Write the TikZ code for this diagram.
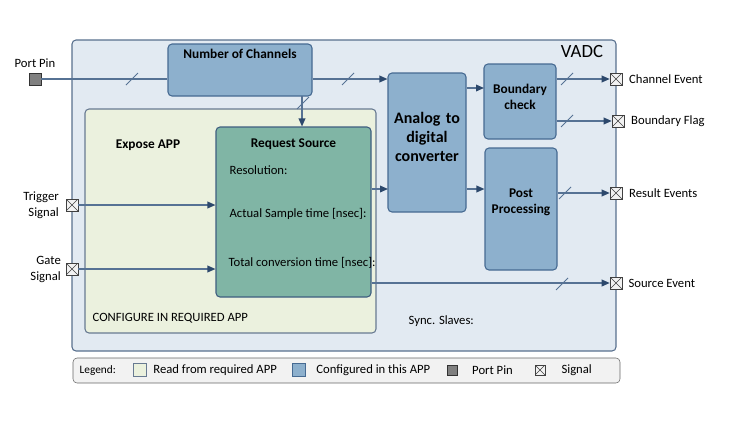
\documentclass[tikz,border=0pt]{standalone}
\usepackage{fontspec}
\setmainfont{Carlito}
\usepackage{tikz}
\usetikzlibrary{arrows.meta, positioning, fit, calc}
\definecolor{vadccolor}{RGB}{226, 234, 242}
\definecolor{vadcborder}{RGB}{88, 112, 142}
\definecolor{configcolor}{RGB}{141, 176, 205}
\definecolor{configborder}{RGB}{70, 106, 146}
\definecolor{readcolor}{RGB}{235, 241, 222}
\definecolor{readborder}{RGB}{104, 122, 146}
\definecolor{sourcecolor}{RGB}{128, 181, 165}
\definecolor{sourceborder}{RGB}{62, 94, 128}
\definecolor{linecolor}{RGB}{86, 114, 148}
\definecolor{tipcolor}{RGB}{44, 72, 108}
\definecolor{legendcolor}{RGB}{242, 242, 242}

\newcommand{\busmark}[1]{\draw[bus] ($(#1)+(-6,6)$) -- ($(#1)+(6,-6)$);}

\begin{document}
\begin{tikzpicture}[
    x=0.75pt, y=-0.75pt,
    font=\fontsize{9.5}{12}\selectfont,
    vadcbox/.style={draw=vadcborder, fill=vadccolor, rounded corners=3pt, inner sep=0pt, line width=0.8pt},
    cfgbox/.style={draw=configborder, fill=configcolor, rounded corners=3pt, inner sep=0pt, line width=0.8pt},
    readbox/.style={draw=readborder, fill=readcolor, rounded corners=3pt, inner sep=0pt, line width=0.8pt},
    srcbox/.style={draw=sourceborder, fill=sourcecolor, rounded corners=3pt, inner sep=0pt, line width=0.8pt},
    title/.style={font=\fontsize{10}{12}\selectfont\bfseries, align=center},
    txt/.style={anchor=west, inner sep=1pt},
    pin/.style={draw=black!80, fill=black!50, minimum size=9pt, inner sep=0pt},
    signal/.style={draw=black!75, fill=black!5, minimum size=9pt, inner sep=0pt,
        path picture={\draw[black!75] (path picture bounding box.south west) -- (path picture bounding box.north east)
            (path picture bounding box.north west) -- (path picture bounding box.south east);}},
    connector/.style={draw=linecolor, line width=1pt},
    arrow/.style={connector, -{Triangle[length=6pt, width=5pt, color=tipcolor]}},
    bus/.style={draw=linecolor, line width=0.6pt}
]
    \useasboundingbox (0,0) rectangle (738,425);

    % Main blocks
    \node[vadcbox, fit={(72,40) (616,351)}] (vadc) {};
    \node[font=\fontsize{14}{16}\selectfont, inner sep=0pt, below left=4pt and 10pt of vadc.north east] (vadclabel) {VADC};
    \node[cfgbox, fit={(168,44) (312,96)}] (noc) {};
    \node[title, below=1pt of noc.north] (noctitle) {Number of Channels};
    \node[readbox, fit={(85,109) (376,333)}] (expose) {};
    \node[title] (exposetitle) at (148,145) {Expose APP};
    \node[txt] (configure) at (91,318) {CONFIGURE IN REQUIRED APP};
    \node[srcbox, fit={(216,127) (371,297)}] (rs) {};
    \node[title, below=6pt of rs.north] (rstitle) {Request Source};
    \node[txt] (resolution) at (228,170) {Resolution:};
    \node[txt] (sampletime) at (228,214) {Actual Sample time [nsec]:};
    \node[txt] (convtime) at (227,263) {Total conversion time [nsec]:};
    \node[cfgbox, fit={(388,73) (466,212)}, font=\fontsize{12}{14.5}\selectfont\bfseries, align=center] (adc) {Analog to\\digital\\converter};
    \node[cfgbox, fit={(484,64) (556,139)}, title] (bcheck) {Boundary\\check};
    \node[cfgbox, fit={(485,148) (557,270)}] (post) {};
    \node[title] (posttitle) at (521,202) {Post\\Processing};
    \node[txt] (sync) at (407,321) {Sync. Slaves:};

    % Pins and signals
    \node[pin] (portpin) at (35,79) {};
    \node[above=2.5pt of portpin, inner sep=1pt] (portpinlabel) {Port Pin};
    \node[signal] (trigger) at (72,205) {};
    \node[left=4pt of trigger, align=right, inner sep=1pt] (triggerlabel) {Trigger\\Signal};
    \node[signal] (gate) at (72,269) {};
    \node[left=2.5pt of gate, align=right, inner sep=1pt] (gatelabel) {Gate\\Signal};
    \node[signal] (chevent) at (616,79) {};
    \node[right=4pt of chevent, inner sep=1pt] (cheventlabel) {Channel Event};
    \node[signal] (bflag) at (618,121) {};
    \node[right=4pt of bflag, inner sep=1pt] (bflaglabel) {Boundary Flag};
    \node[signal] (resevent) at (616,193) {};
    \node[right=4pt of resevent, inner sep=1pt] (reseventlabel) {Result Events};
    \node[signal] (srcevent) at (616,283) {};
    \node[right=3.5pt of srcevent, inner sep=1pt] (srceventlabel) {Source Event};

    % Connections
    \coordinate (nocout) at (302,96);
    \coordinate (adcin) at (388,189);
    \coordinate (bcin) at (484,88);
    \draw[connector] (portpin) -- (portpin -| noc.west);
    \draw[arrow] (portpin -| noc.east) -- (portpin -| adc.west);
    \draw[arrow] (nocout) -- (nocout |- rs.north);
    \draw[arrow] (trigger) -- (trigger -| rs.west);
    \draw[arrow] (gate) -- (gate -| rs.west);
    \draw[arrow] (adcin -| rs.east) -- (adcin);
    \draw[arrow] (bcin -| adc.east) -- (bcin);
    \draw[arrow] (adcin -| adc.east) -- (adcin -| post.west);
    \draw[arrow] (chevent -| bcheck.east) -- (chevent);
    \draw[arrow] (bflag -| bcheck.east) -- (bflag);
    \draw[arrow] (resevent -| post.east) -- (resevent);
    \draw[arrow] (srcevent -| rs.east) -- (srcevent);

    % Bus marks
    \busmark{132,79}
    \busmark{348,79}
    \busmark{303,103}
    \busmark{567,79}
    \busmark{567,121}
    \busmark{565,193}
    \busmark{562,284}

    % Legend
    \node[fit={(73,358) (620,383)}, draw=black!60, fill=legendcolor, rounded corners=3pt, inner sep=0pt] (legend) {};
    \node[font=\fontsize{8.5}{10}\selectfont, txt] (legendlabel) at (78,370.5) {Legend:};
    \node[draw=readborder, fill=readcolor, minimum size=10pt, inner sep=0pt] (legread) at (139.5,370) {};
    \node[txt, right=4pt of legread] (legreadlabel) {Read from required APP};
    \node[draw=configborder, fill=configcolor, minimum size=10pt, inner sep=0pt] (legcfg) at (298.5,370) {};
    \node[txt, right=7pt of legcfg] (legcfglabel) {Configured in this APP};
    \node[pin, minimum size=7.5pt] (legpin) at (452,370) {};
    \node[txt, right=10pt of legpin] (legpinlabel) {Port Pin};
    \node[signal, minimum size=7.5pt] (legsig) at (540,370) {};
    \node[txt, right=11pt of legsig] (legsiglabel) {Signal};
\end{tikzpicture}
\end{document}
